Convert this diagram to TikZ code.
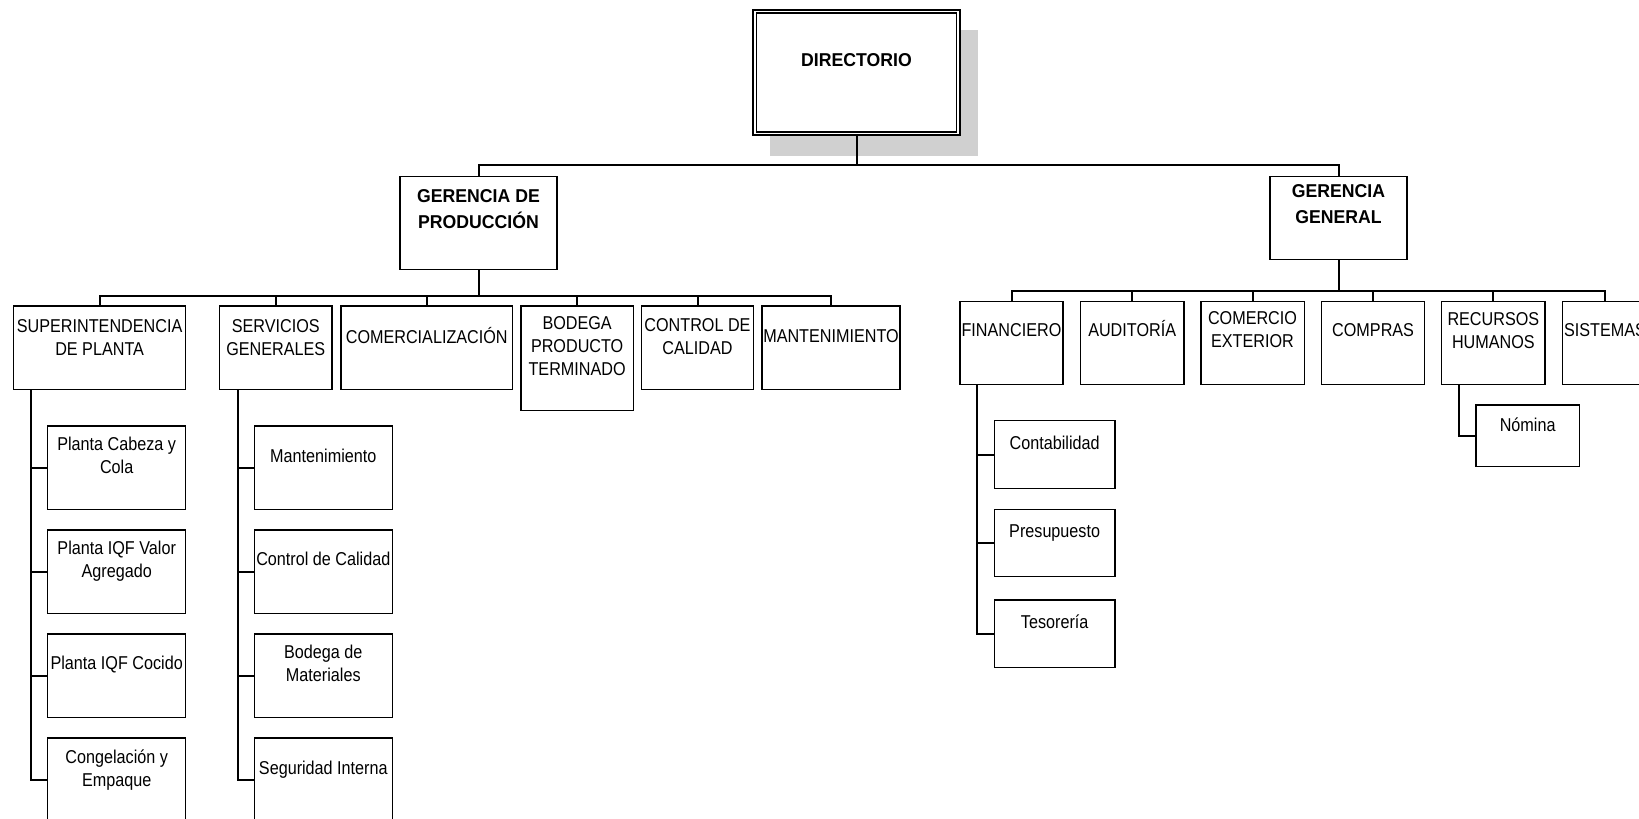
\documentclass[tikz,border=0pt]{standalone}
\usepackage{fontspec}
\newfontfamily\nfont{Liberation Sans}[FakeStretch=0.87]
\newfontfamily\bfont{Liberation Sans}[FakeStretch=0.95]
\usetikzlibrary{fit}
\definecolor{shadowgray}{RGB}{208,208,208}
\begin{document}
\begin{tikzpicture}[x=0.5pt,y=-0.5pt,
  box/.style={draw, line width=0.7pt, inner sep=0pt, outer sep=0pt, fill=white},
  conn/.style={line width=1pt},
  txt/.style={inner sep=0pt, align=center, font=\nfont\fontsize{9.3pt}{11.5pt}\selectfont},
  btxt/.style={inner sep=0pt, align=center, font=\bfont\bfseries\fontsize{9.3pt}{13pt}\selectfont},
  sl/.style={anchor=base},
  ml/.style={anchor=north}]
\useasboundingbox (0,0) rectangle (1639,819);
\clip (0,0) rectangle (1639,819);

% Directorio
\node[fill=shadowgray, inner sep=0pt, outer sep=0pt, fit={(770,30) (977.7,156)}] (dirshadow) {};
\node[box, line width=1pt, fit={(753,10) (960,135)}] (dir) {};
\node[draw, line width=0.6pt, inner sep=0pt, outer sep=0pt, fit={(756.7,13) (956.3,132)}] (dirin) {};
\node[btxt, sl] (dir-t) at (856.5,66.6) {DIRECTORIO};

% Gerencias
\node[box, fit={(400,176.5) (557,269.3)}] (gp) {};
\node[btxt, ml] (gp-t) at (478.5,189) {GERENCIA DE\\PRODUCCIÓN};
\node[box, fit={(1270,176.7) (1407,259.3)}] (gg) {};
\node[btxt, ml] (gg-t) at (1338.5,184) {GERENCIA\\GENERAL};

% Production children
\node[box, fit={(13.6,306) (185.7,389.5)}] (sup) {};
\node[txt, ml] (sup-t) at (99.65,319) {SUPERINTENDENCIA\\DE PLANTA};
\node[box, fit={(219.6,306) (332,389.5)}] (serv) {};
\node[txt, ml] (serv-t) at (275.8,319) {SERVICIOS\\GENERALES};
\node[box, fit={(341,306) (512.5,389.5)}] (com) {};
\node[txt, sl] (com-t) at (426.75,343.3) {COMERCIALIZACIÓN};
\node[box, fit={(521,306) (633.3,410.7)}] (bod) {};
\node[txt, ml] (bod-t) at (577.15,316.6) {BODEGA\\PRODUCTO\\TERMINADO};
\node[box, fit={(641.7,306) (753.3,389.5)}] (cc) {};
\node[txt, ml] (cc-t) at (697.5,318.3) {CONTROL DE\\CALIDAD};
\node[box, fit={(762,306) (900,389.5)}] (mant) {};
\node[txt, sl] (mant-t) at (831,342.6) {MANTENIMIENTO};

% Superintendencia children
\node[box, fit={(47.7,426) (185.7,509.3)}] (sp1) {};
\node[txt, ml] (sp1-t) at (116.7,436.6) {Planta Cabeza y\\Cola};
\node[box, fit={(47.7,530) (185.7,613.3)}] (sp2) {};
\node[txt, ml] (sp2-t) at (116.7,541) {Planta IQF Valor\\Agregado};
\node[box, fit={(47.7,634) (185.7,717.3)}] (sp3) {};
\node[txt, sl] (sp3-t) at (116.7,669.9) {Planta IQF Cocido};
\node[box, fit={(47.7,738) (185.7,821.3)}] (sp4) {};
\node[txt, ml] (sp4-t) at (116.7,749) {Congelación y\\Empaque};

% Servicios generales children
\node[box, fit={(254.3,426) (392.3,509.3)}] (sv1) {};
\node[txt, sl] (sv1-t) at (323.3,462.6) {Mantenimiento};
\node[box, fit={(254.3,530) (392.3,613.3)}] (sv2) {};
\node[txt, sl] (sv2-t) at (323.3,565.9) {Control de Calidad};
\node[box, fit={(254.3,634) (392.3,717.3)}] (sv3) {};
\node[txt, ml] (sv3-t) at (323.3,645) {Bodega de\\Materiales};
\node[box, fit={(254.3,738) (392.3,821.3)}] (sv4) {};
\node[txt, sl] (sv4-t) at (323.3,774.3) {Seguridad Interna};

% Gerencia general children
\node[box, fit={(960,301.5) (1063,384.2)}] (fin) {};
\node[txt, sl] (fin-t) at (1011.5,336.6) {FINANCIERO};
\node[box, fit={(1080.4,301.5) (1183.9,384.2)}] (aud) {};
\node[txt, sl] (aud-t) at (1132.15,336.6) {AUDITORÍA};
\node[box, fit={(1200.8,301.5) (1304.2,384.2)}] (ce) {};
\node[txt, ml] (ce-t) at (1252.5,311.6) {COMERCIO\\EXTERIOR};
\node[box, fit={(1321.6,301.5) (1424.6,384.2)}] (cmp) {};
\node[txt, sl] (cmp-t) at (1373.1,336.6) {COMPRAS};
\node[box, fit={(1441.7,301.5) (1545,384.2)}] (rh) {};
\node[txt, ml] (rh-t) at (1493.35,312.6) {RECURSOS\\HUMANOS};
\node[box, fit={(1562.3,301.5) (1647.7,384.2)}] (sis) {};
\node[txt, sl] (sis-t) at (1605,336.6) {SISTEMAS};
\node[box, fit={(1476,405) (1579.3,466.7)}] (nom) {};
\node[txt, sl] (nom-t) at (1527.65,431.6) {Nómina};

% Financiero children
\node[box, fit={(994.3,420.7) (1115,488.3)}] (cont) {};
\node[txt, sl] (cont-t) at (1054.65,449.3) {Contabilidad};
\node[box, fit={(994.3,509.3) (1115,576.7)}] (pres) {};
\node[txt, sl] (pres-t) at (1054.65,537.6) {Presupuesto};
\node[box, fit={(994.3,600) (1115,667.3)}] (tes) {};
\node[txt, sl] (tes-t) at (1054.65,628.3) {Tesorería};

% Bus coordinates
\coordinate (topbus) at (856.5,165);
\coordinate (pbus) at (478.5,295.7);
\coordinate (gbus) at (1338.5,291);

% Connectors
\draw[conn] (dir.south) -- (topbus) -| (gp.north);
\draw[conn] (topbus) -| (gg.north);

\draw[conn] (gp.south) -- (pbus);
\foreach \c in {sup,serv,com,bod,cc,mant} \draw[conn] (pbus) -| (\c.north);

\draw[conn] (gg.south) -- (gbus);
\foreach \c in {fin,aud,ce,cmp,rh,sis} \draw[conn] (gbus) -| (\c.north);

\foreach \c in {sp1,sp2,sp3,sp4} \draw[conn] ([xshift=8.7pt]sup.south west) |- (\c.west);
\foreach \c in {sv1,sv2,sv3,sv4} \draw[conn] ([xshift=9.05pt]serv.south west) |- (\c.west);
\foreach \c in {cont,pres,tes} \draw[conn] ([xshift=8.65pt]fin.south west) |- (\c.west);
\draw[conn] ([xshift=8.8pt]rh.south west) |- (nom.west);
\end{tikzpicture}
\end{document}
